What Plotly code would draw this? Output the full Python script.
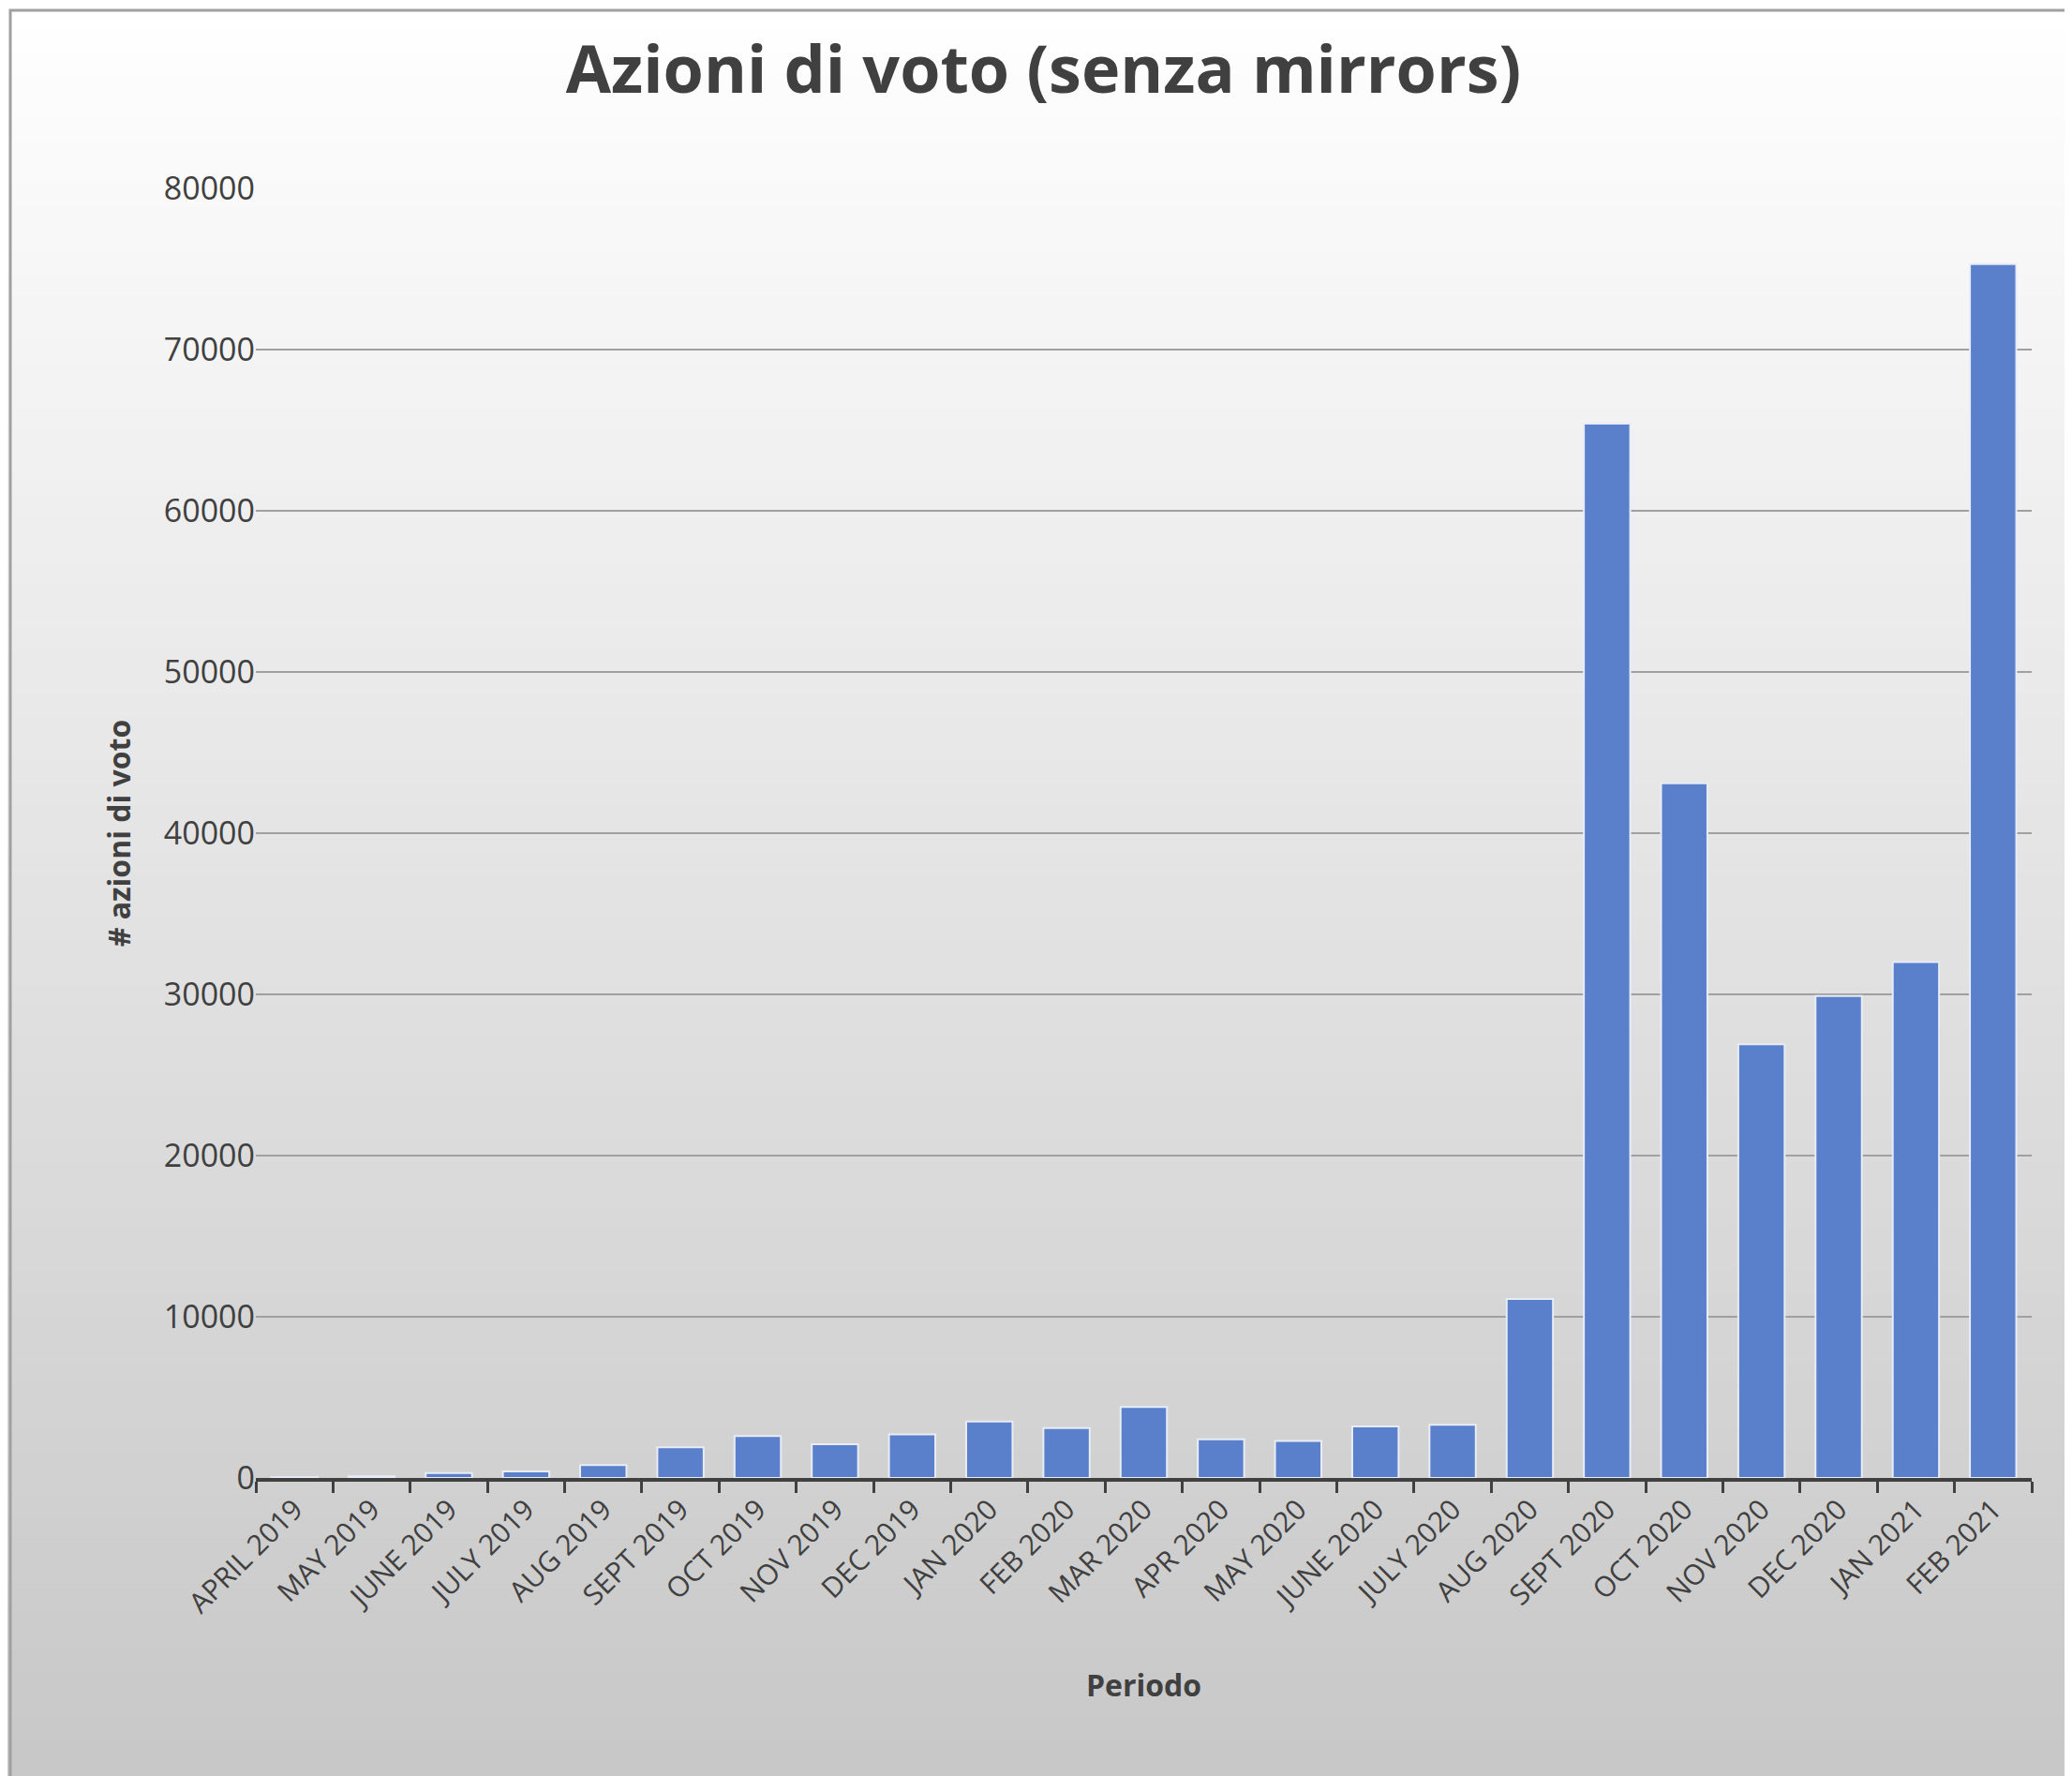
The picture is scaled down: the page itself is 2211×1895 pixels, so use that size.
import plotly.graph_objects as go

months = ["APRIL 2019","MAY 2019","JUNE 2019","JULY 2019","AUG 2019","SEPT 2019","OCT 2019","NOV 2019","DEC 2019",
          "JAN 2020","FEB 2020","MAR 2020","APR 2020","MAY 2020","JUNE 2020","JULY 2020","AUG 2020","SEPT 2020",
          "OCT 2020","NOV 2020","DEC 2020","JAN 2021","FEB 2021"]
votes = [50,100,300,400,800,1900,2600,2100,2700,3500,3100,4400,2400,2300,3200,3300,11100,65400,43100,26900,29900,32000,75300]

fig = go.Figure(go.Bar(x=months, y=votes, marker=dict(color="#5a7fcb", line=dict(color="#e8ecf5", width=2)), width=0.6))

shapes = []
n = 80
top, span = 1 + 193/1376, 1895/1376
for i in range(n):
    t = i / (n - 1)
    c = int(255 - t * (255 - 200))
    col = f"rgb({c},{c},{c})"
    shapes.append(dict(type="rect", xref="paper", yref="paper", x0=-1, x1=2,
                       y0=top - (i + 1.5) * span / n, y1=top - i * span / n + (1 if i == 0 else 0),
                       fillcolor=col, line=dict(width=1, color=col), layer="below"))
fig.update_layout(
    width=2211, height=1895, shapes=shapes,
    paper_bgcolor="#d8d8d8", plot_bgcolor="rgba(0,0,0,0)",
    margin=dict(l=265, r=51, t=193, b=326),
    font=dict(family="Open Sans, Liberation Sans", color="#404040", size=30),
    title=dict(text="<b>Azioni di voto (senza mirrors)</b>", x=0.5, xanchor="center", y=0.965, yanchor="middle",
               font=dict(size=70, color="#404040")),
    bargap=0.4, showlegend=False,
    xaxis=dict(title=dict(text="<b>Periodo</b>", font=dict(size=32), standoff=60), tickangle=-45,
               showline=True, linecolor="#404040", linewidth=4, ticks="outside", tickson="boundaries",
               ticklen=12, tickwidth=3, tickcolor="#404040", tickfont=dict(size=30)),
    yaxis=dict(title=dict(text="<b># azioni di voto</b>", font=dict(size=32), standoff=25), range=[0, 80000],
               dtick=10000, tickformat="d", showgrid=True, gridcolor="#a0a0a0", gridwidth=2, zeroline=False,
               tickfont=dict(size=34)),
)
fig.add_shape(type="rect", xref="paper", yref="paper", x0=-262/1895, x1=1+47/1895, y0=-323/1376, y1=1+190/1376,
              line=dict(color="#a0a0a0", width=3))
fig.write_html("out.html")
